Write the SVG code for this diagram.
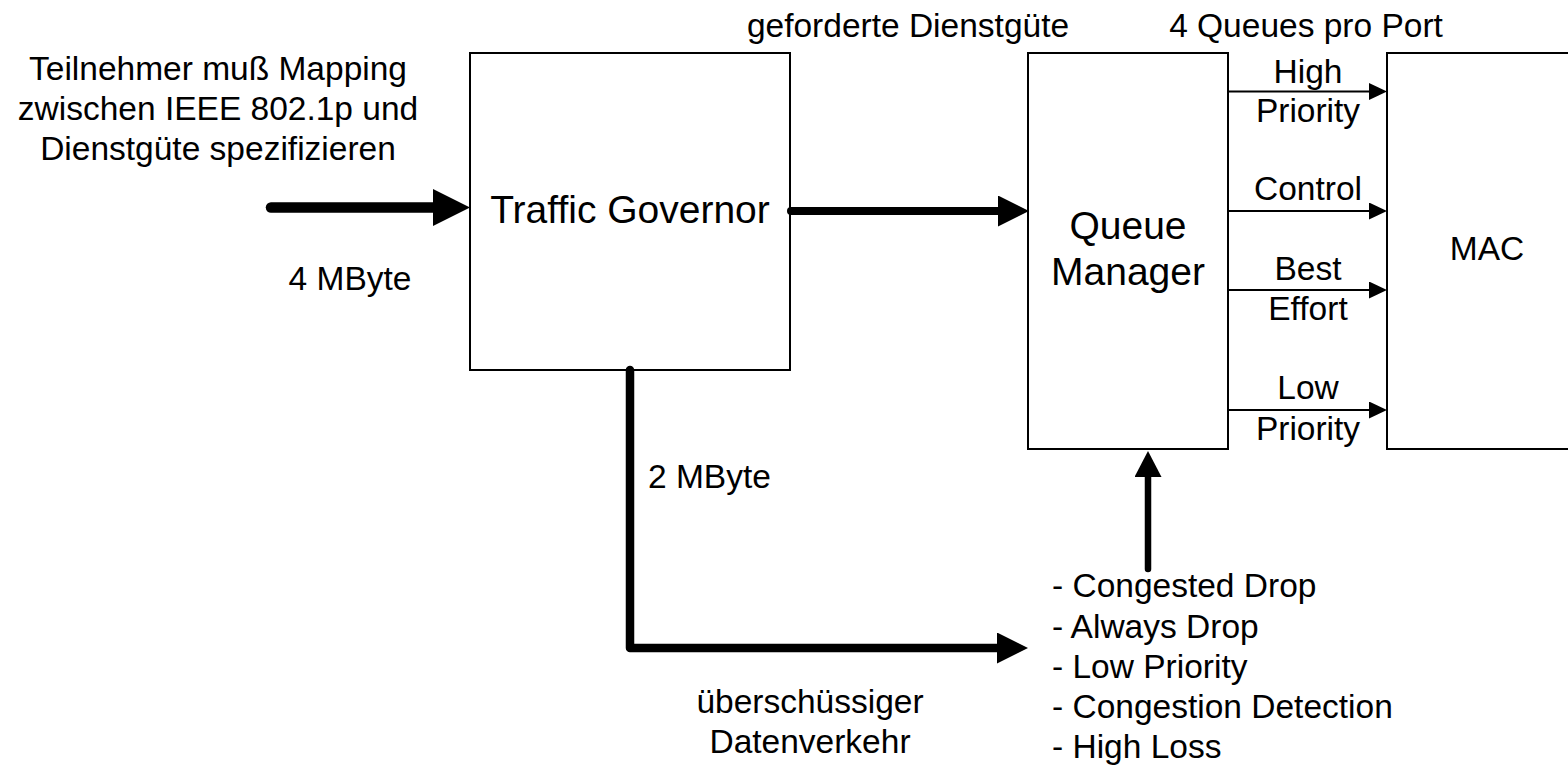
<svg xmlns="http://www.w3.org/2000/svg" width="1568" height="769" viewBox="0 0 1568 769">
  <style>
    text { font-family: "Liberation Sans", Arial, sans-serif; fill: #000; }
    .lbl { font-size: 33.5px; }
    .title { font-size: 39px; }
    .mid { text-anchor: middle; }
    .box { fill: #fff; stroke: #000; stroke-width: 2; }
    .thick { fill: none; stroke: #000; stroke-linecap: round; stroke-linejoin: round; }
    .thin { fill: none; stroke: #000; stroke-width: 2; }
  </style>
  <defs>
    <marker id="headBig" markerUnits="userSpaceOnUse" markerWidth="37" markerHeight="37" viewBox="0 0 37 37" refX="0" refY="18.5" orient="auto">
      <path d="M0,0 L37,18.5 L0,37 Z" fill="#000"/>
    </marker>
    <marker id="headMid" markerUnits="userSpaceOnUse" markerWidth="31" markerHeight="31" viewBox="0 0 31 31" refX="0" refY="15.5" orient="auto">
      <path d="M0,0 L31,15.5 L0,31 Z" fill="#000"/>
    </marker>
    <marker id="headUp" markerUnits="userSpaceOnUse" markerWidth="26" markerHeight="27" viewBox="0 0 26 27" refX="0" refY="13.5" orient="auto">
      <path d="M0,0 L26,13.5 L0,27 Z" fill="#000"/>
    </marker>
    <marker id="headSmall" markerUnits="userSpaceOnUse" markerWidth="18" markerHeight="17" viewBox="0 0 18 17" refX="0" refY="8.5" orient="auto">
      <path d="M0,0 L18,8.5 L0,17 Z" fill="#000"/>
    </marker>
  </defs>

  <!-- free labels -->
  <g id="labels">
    <text class="lbl mid" x="218" y="80">Teilnehmer muß Mapping</text>
    <text class="lbl mid" x="218" y="120">zwischen IEEE 802.1p und</text>
    <text class="lbl mid" x="218" y="159.5">Dienstgüte spezifizieren</text>
    <text class="lbl mid" x="350" y="290">4 MByte</text>
    <text class="lbl mid" x="908" y="37">geforderte Dienstgüte</text>
    <text class="lbl mid" x="1306" y="37">4 Queues pro Port</text>
    <text class="lbl" x="648" y="488">2 MByte</text>
    <text class="lbl mid" x="810" y="713">überschüssiger</text>
    <text class="lbl mid" x="810" y="753">Datenverkehr</text>
  </g>

  <g id="traffic-governor">
    <rect class="box" x="470" y="53" width="320" height="317"/>
    <text class="title mid" x="630" y="223">Traffic Governor</text>
  </g>

  <g id="queue-manager">
    <rect class="box" x="1028" y="53" width="200" height="396"/>
    <text class="title mid" x="1128" y="239">Queue</text>
    <text class="title mid" x="1128" y="285">Manager</text>
  </g>

  <g id="mac">
    <rect class="box" x="1387" y="53" width="200" height="396"/>
    <text class="lbl mid" x="1487" y="260">MAC</text>
  </g>

  <g id="drop-policies">
    <text class="lbl" x="1052" y="597">- Congested Drop</text>
    <text class="lbl" x="1052" y="638">- Always Drop</text>
    <text class="lbl" x="1052" y="678">- Low Priority</text>
    <text class="lbl" x="1052" y="718">- Congestion Detection</text>
    <text class="lbl" x="1052" y="758">- High Loss</text>
  </g>

  <g id="connectors">
    <!-- incoming traffic -->
    <line class="thick" stroke-width="10.5" x1="271" y1="207.5" x2="433" y2="207.5" marker-end="url(#headBig)"/>
    <!-- governor to queue manager -->
    <line class="thick" stroke-width="8" x1="791" y1="211" x2="998" y2="211" marker-end="url(#headMid)"/>
    <!-- excess traffic -->
    <path class="thick" stroke-width="8.5" d="M630,370 V648 H997" marker-end="url(#headMid)"/>
    <!-- drop policies into queue manager -->
    <line class="thick" stroke-width="6.5" x1="1148" y1="569" x2="1148" y2="477" marker-end="url(#headUp)"/>
    <!-- the four queues -->
    <line class="thin" x1="1228" y1="91.5" x2="1369" y2="91.5" marker-end="url(#headSmall)"/>
    <line class="thin" x1="1228" y1="211" x2="1369" y2="211" marker-end="url(#headSmall)"/>
    <line class="thin" x1="1228" y1="290" x2="1369" y2="290" marker-end="url(#headSmall)"/>
    <line class="thin" x1="1228" y1="410" x2="1369" y2="410" marker-end="url(#headSmall)"/>
  </g>

  <g id="queue-labels">
    <text class="lbl mid" x="1308" y="82.7">High</text>
    <text class="lbl mid" x="1308" y="121.7">Priority</text>
    <text class="lbl mid" x="1308" y="200">Control</text>
    <text class="lbl mid" x="1308" y="280">Best</text>
    <text class="lbl mid" x="1308" y="320">Effort</text>
    <text class="lbl mid" x="1308" y="399">Low</text>
    <text class="lbl mid" x="1308" y="440">Priority</text>
  </g>
</svg>
